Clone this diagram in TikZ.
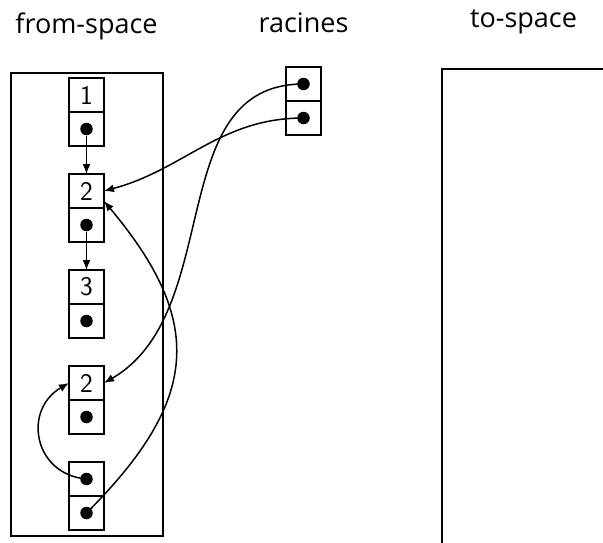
\documentclass[tikz,border=0pt]{standalone}
\usepackage{fontspec}
\newfontfamily\titlefont{Open Sans}
\usetikzlibrary{positioning,arrows.meta}

\begin{document}
\begin{tikzpicture}[x=1pt,y=1pt,>={Latex[length=10pt,width=8pt]},line width=1.5pt,
  cell/.style={draw,minimum width=35pt,minimum height=34pt,inner sep=0pt,outer sep=0pt,font=\fontsize{27}{27}\sffamily},
  dot/.style={circle,fill,inner sep=0pt,minimum size=12.5pt},
  title/.style={anchor=base,font=\fontsize{27}{28}\titlefont}]
  \clip (0,0) rectangle (603,-542);
  \node[title] (tf) at (86.5,-33) {from-space};
  \node[title] (tr) at (303.5,-32) {racines};
  \node[title] (tt) at (523.5,-27) {to-space};
  \draw (11,-73) rectangle (163,-536);
  \draw (442,-69) rectangle (606,-560);
  % from-space
  \node[cell] (v1) at (86.5,-95) {1};
  \node[cell] (p1) [below=0pt of v1] {};
  \node[cell] (v2) [below=28pt of p1] {2};
  \node[cell] (p2) [below=0pt of v2] {};
  \node[cell] (v3) [below=28pt of p2] {3};
  \node[cell] (p3) [below=0pt of v3] {};
  \node[cell] (v4) [below=28pt of p3] {2};
  \node[cell] (p4) [below=0pt of v4] {};
  \node[cell] (q1) [below=28pt of p4] {};
  \node[cell] (q2) [below=0pt of q1] {};
  % racines
  \node[cell] (r1) at (303.5,-84) {};
  \node[cell] (r2) [below=0pt of r1] {};
  \node[dot] (d1) at (p1) {};
  \node[dot] (d2) at (p2) {};
  \node[dot] (d3) at (p3) {};
  \node[dot] (d4) at (p4) {};
  \node[dot] (e1) at (q1) {};
  \node[dot] (e2) at (q2) {};
  \node[dot] (s1) at (r1) {};
  \node[dot] (s2) at (r2) {};
  \draw[->] (d1) -- (v2);
  \draw[->] (d2) -- (v3);
  \draw[->] (s1.center) to[out=180,in=30] (v4.east);
  \draw[->] (s2.center) to[out=180,in=15] (v2.east);
  \draw[->] (e2.center) to[out=45,in=-50,looseness=1.3] (v2.-30);
  \draw[->] (e1.center) to[out=175,in=-150,looseness=1.4] (v4.west);
\end{tikzpicture}
\end{document}
